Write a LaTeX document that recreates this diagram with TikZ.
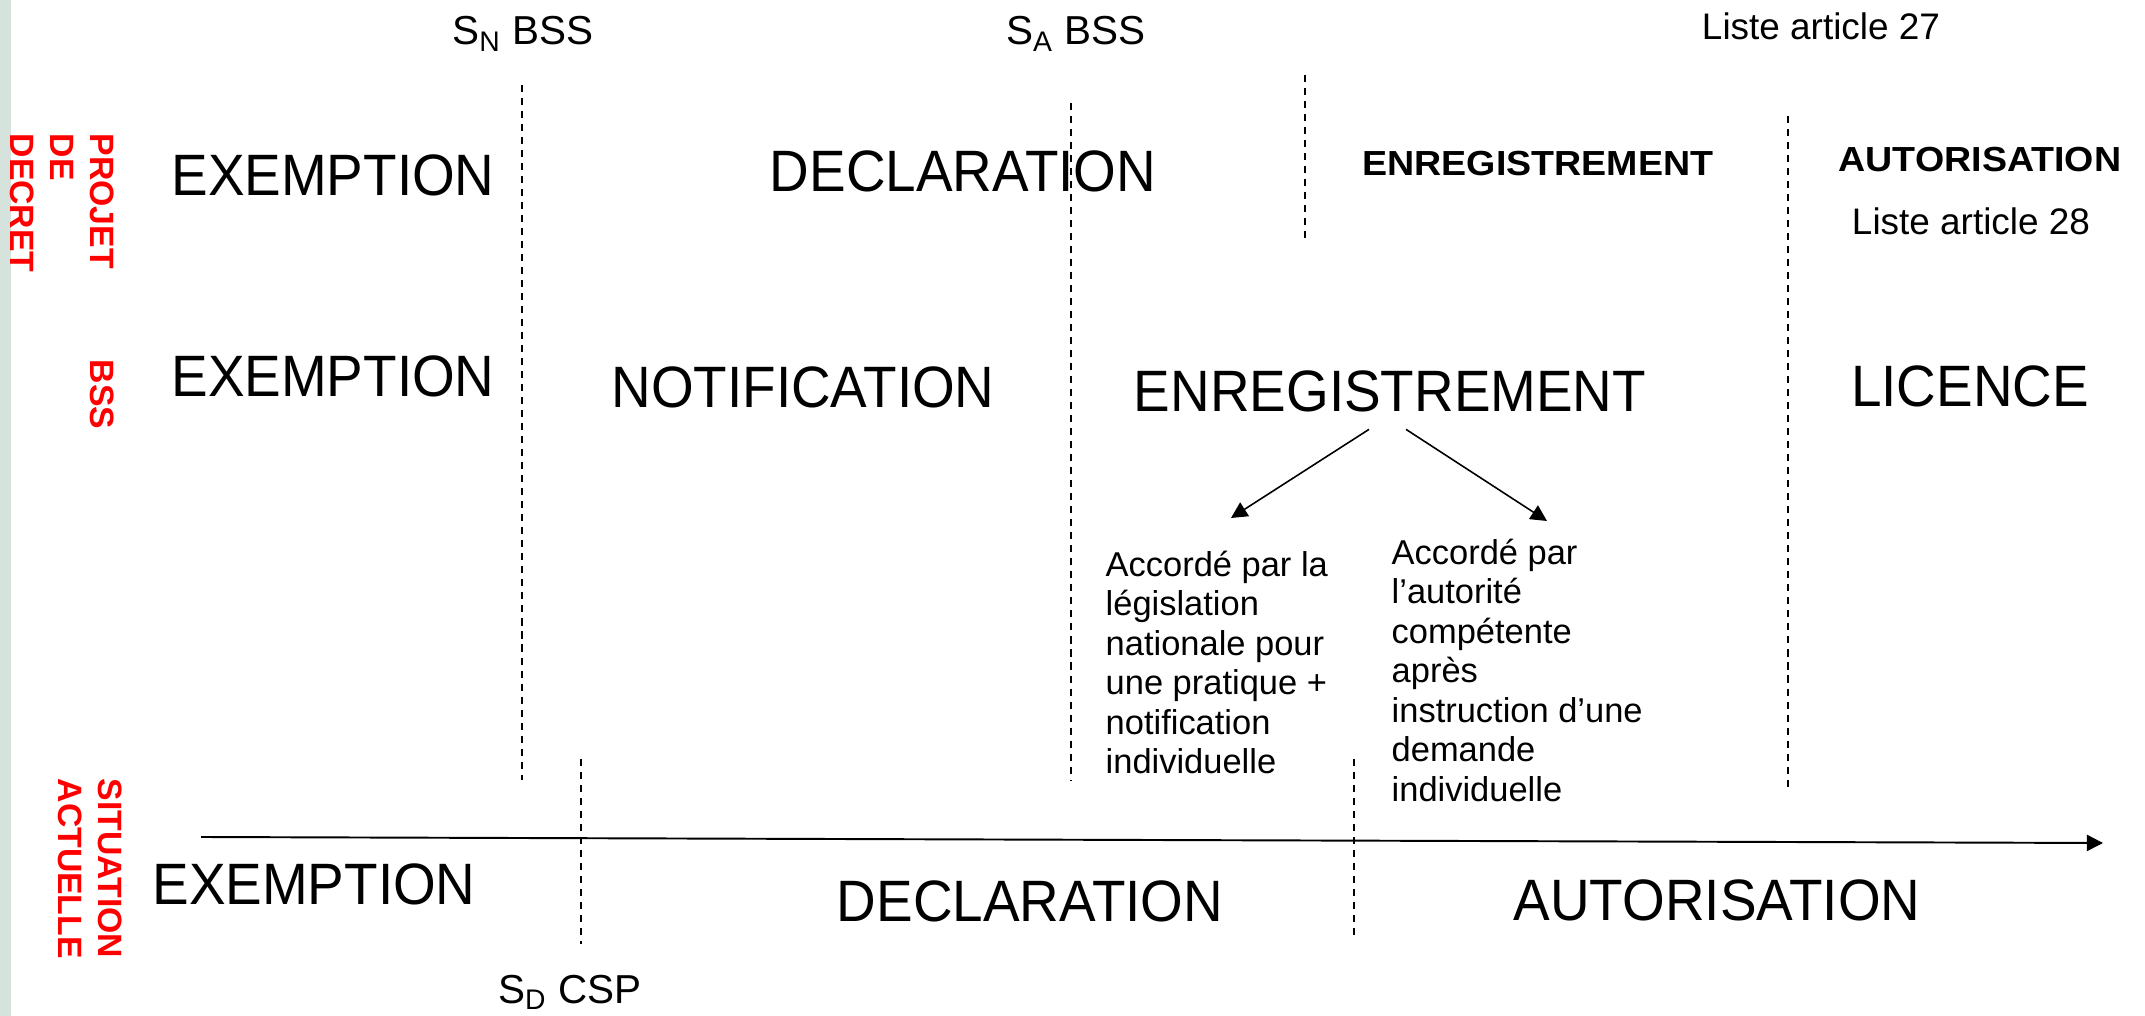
\documentclass[tikz,border=0pt]{standalone}
\usepackage{fontspec}
\setmainfont{Liberation Sans}
\newfontfamily\bigfont[FakeStretch=0.94]{Liberation Sans}
\newfontfamily\widefont[FakeStretch=1.08]{Liberation Sans}
\usetikzlibrary{arrows.meta}
\definecolor{stripgreen}{RGB}{214,227,220}
\definecolor{labelred}{RGB}{255,0,0}
\tikzset{
	regime/.style={inner sep=0pt, font=\bigfont\fontsize{16.6}{19}\selectfont},
	regbold/.style={inner sep=0pt, font=\widefont\bfseries\fontsize{9.9}{12}\selectfont},
	liste/.style={inner sep=0pt, font=\fontsize{10.5}{12}\selectfont},
	seuil/.style={inner sep=0pt, anchor=base, font=\fontsize{11.5}{13}\selectfont},
	note/.style={inner sep=0pt, anchor=north west, align=left, font=\fontsize{9.8}{11.25}\selectfont},
	rowlabel/.style={inner sep=0pt, rotate=-90, anchor=north west, align=left,
			text=labelred, font=\bfseries\fontsize{9.6}{11.4}\selectfont},
	limit/.style={line width=0.45pt, dash pattern=on 2pt off 1.7pt}
}

\begin{document}
\begin{tikzpicture}[x=0.01cm, y=-0.01cm, >={Triangle[length=4.6pt, width=4.6pt]}]
	\useasboundingbox (0,0) rectangle (2145,1016);
	\fill[stripgreen] (0,0) rectangle (11,1016);

	% Row labels
	\node[rowlabel] (lproj) at (115,133) {PROJET\\DE\\DECRET};
	\node[rowlabel] (lbss) at (115,359) {BSS};
	\node[rowlabel] (lsit) at (123,778) {SITUATION\\ACTUELLE};

	% Thresholds
	\node[seuil] (sn) at (523,45) {S\textsubscript{N} BSS};
	\node[seuil] (sa) at (1076,45) {S\textsubscript{A} BSS};
	\node[liste, anchor=base] (l27) at (1821,40) {Liste article 27};
	\node[seuil] (sd) at (570,1003) {S\textsubscript{D} CSP};

	% Projet de decret
	\node[regime] (ex1) at (333,175) {EXEMPTION};
	\node[regime] (dec1) at (963,171) {DECLARATION};
	\node[regbold] (enr1) at (1538,164) {ENREGISTREMENT};
	\node[regbold] (aut1) at (1980,160) {AUTORISATION};
	\node[liste, anchor=base] (l28) at (1971,235) {Liste article 28};

	% BSS
	\node[regime] (ex2) at (333,376) {EXEMPTION};
	\node[regime] (notif) at (803,387) {NOTIFICATION};
	\node[regime] (enr2) at (1390,391) {ENREGISTREMENT};
	\node[regime] (lic) at (1970,386) {LICENCE};

	% Two ways of registering
	\node[note] (legis) at (1105,550) {Accordé par la\\législation\\nationale pour\\une pratique +\\notification\\individuelle};
	\node[note] (autor) at (1391,538) {Accordé par\\l’autorité\\compétente\\après\\instruction d’une\\demande\\individuelle};
	\draw[->, line width=0.45pt] ([shift={(-21,17)}]enr2.south) -- ([shift={(126,-32)}]legis.north west);
	\draw[->, line width=0.45pt] ([shift={(16,17)}]enr2.south) -- ([shift={(156,-17)}]autor.north west);

	% Situation actuelle
	\node[regime] (ex3) at (314,884) {EXEMPTION};
	\node[regime] (dec3) at (1030,901) {DECLARATION};
	\node[regime] (aut3) at (1717,900) {AUTORISATION};

	% Limits between regimes
	\foreach \i/\x/\ya/\yb in {1/522/85/780, 2/1071/103/780, 3/1305/75/240,
			4/1788/116/791, 5/581/759/944, 6/1354/759/937}{
		\coordinate (lim\i a) at (\x,\ya);
		\coordinate (lim\i b) at (\x,\yb);
		\draw[limit] (lim\i a) -- (lim\i b);
	}

	% Time axis
	\coordinate (t0) at (201,837);
	\coordinate (t1) at (2103,843);
	\draw[->, line width=0.55pt] (t0) -- (t1);
\end{tikzpicture}
\end{document}
